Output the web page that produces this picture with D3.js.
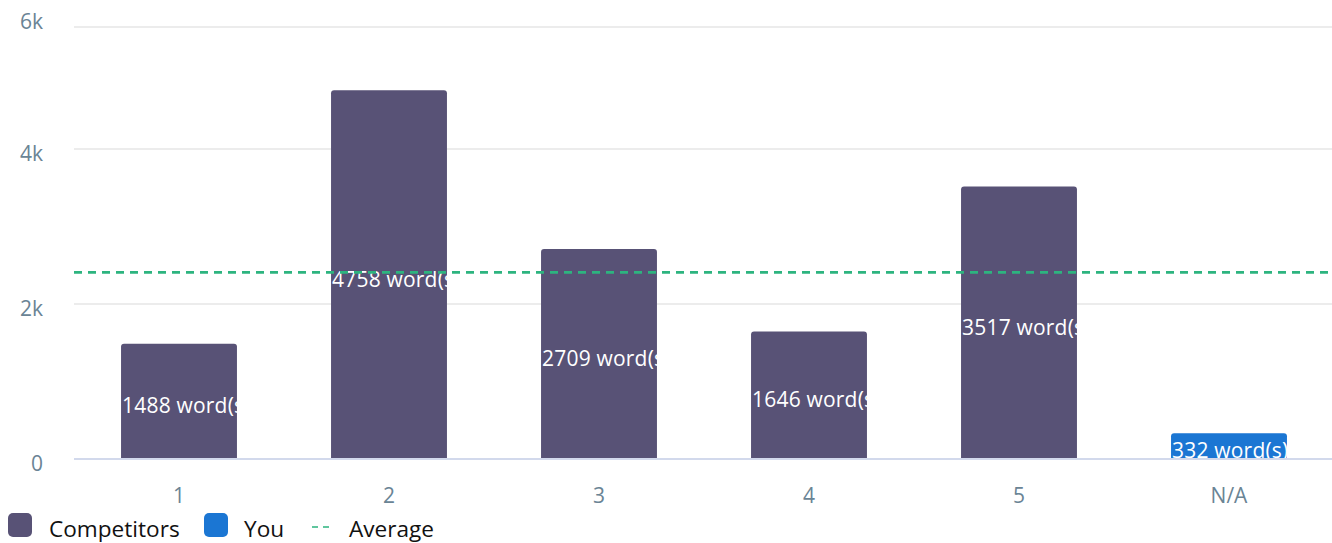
<!DOCTYPE html>
<html>
<head>
<meta charset="utf-8">
<script src="https://cdn.jsdelivr.net/npm/d3@7"></script>
<style>
  html, body { margin: 0; padding: 0; background: #fff; }
  svg { display: block; font-family: "Open Sans", sans-serif; }
</style>
</head>
<body>
<svg id="chart" width="1332" height="543"></svg>
<script>
// Word counts per ranking position
const categories = ["1", "2", "3", "4", "5", "N/A"];
const wordCounts = [1488, 4758, 2709, 1646, 3517, 332];
const owners = ["Competitors", "Competitors", "Competitors", "Competitors", "Competitors", "You"];
const yTicks = [0, 2000, 4000, 6000];
const yTickLabels = ["0", "2k", "4k", "6k"];
const legendItems = ["Competitors", "You", "Average"];

const colors = { Competitors: "#585276", You: "#1b76d3", Average: "#2db47f" };
const average = d3.mean(wordCounts);

const svg = d3.select("#chart");
const W = 1332;
const plot = { left: 74, right: 1334, top: 27, bottom: 459 };

const x = d3.scaleBand()
  .domain(categories)
  .range([plot.left, plot.right])
  .paddingInner(0.448)
  .paddingOuter(0.224);

const y = d3.scaleLinear()
  .domain([0, 6000])
  .range([plot.bottom, plot.bottom - 6000 * 0.0775]);

// Horizontal gridlines (the top one held at the plot's upper edge)
const gy = v => Math.max(y(v), plot.top);
svg.append("g").selectAll("line")
  .data(yTicks.filter(t => t > 0))
  .join("line")
  .attr("x1", plot.left).attr("x2", W)
  .attr("y1", gy).attr("y2", gy)
  .attr("stroke", "#e6e6e6").attr("stroke-width", 1.5);

// Y tick labels
svg.append("g").selectAll("text")
  .data(yTicks)
  .join("text")
  .attr("x", 43)
  .attr("y", v => Math.max(y(v) + 12, plot.top + 2))
  .attr("text-anchor", "end")
  .attr("fill", "#6a8495")
  .attr("font-size", 21)
  .text((v, i) => yTickLabels[i]);

// Bars with rounded top corners
const r = 3;
function barPath(x0, w, top, bottom) {
  return `M${x0},${bottom}V${top + r}Q${x0},${top} ${x0 + r},${top}H${x0 + w - r}Q${x0 + w},${top} ${x0 + w},${top + r}V${bottom}Z`;
}

const defs = svg.append("defs");
const bars = svg.append("g");
wordCounts.forEach((v, i) => {
  const cx = x(categories[i]);
  const bw = x.bandwidth();
  const top = y(v);
  const id = "clip-" + i;
  defs.append("clipPath").attr("id", id)
    .append("rect")
    .attr("x", cx).attr("y", top)
    .attr("width", bw).attr("height", plot.bottom - top);
  bars.append("path")
    .attr("d", barPath(cx, bw, top, plot.bottom))
    .attr("fill", colors[owners[i]]);
  bars.append("text")
    .attr("clip-path", `url(#${id})`)
    .attr("x", cx + 1)
    .attr("y", (top + plot.bottom) / 2 + 12)
    .attr("fill", "#fff")
    .attr("font-size", 21)
    .attr("letter-spacing", 0.2)
    .text(`${v} word(s)`);
});

// Baseline
svg.append("line")
  .attr("x1", plot.left).attr("x2", W)
  .attr("y1", y(0)).attr("y2", y(0))
  .attr("stroke", "#d2d9ec").attr("stroke-width", 2);

// Average line
svg.append("line")
  .attr("x1", plot.left).attr("x2", W)
  .attr("y1", y(average)).attr("y2", y(average))
  .attr("stroke", colors.Average).attr("stroke-width", 2.8)
  .attr("stroke-dasharray", "8,6");

// X tick labels
svg.append("g").selectAll("text")
  .data(categories)
  .join("text")
  .attr("x", c => x(c) + x.bandwidth() / 2)
  .attr("y", 503)
  .attr("text-anchor", "middle")
  .attr("fill", "#6a8495")
  .attr("font-size", 21)
  .text(c => c);

// Legend
const legend = svg.append("g");
const legendX = [8, 204, 312];
const legendTextX = [49, 244, 349];
legendItems.forEach((name, i) => {
  if (name === "Average") {
    legend.append("line")
      .attr("x1", legendX[i]).attr("x2", legendX[i] + 18)
      .attr("y1", 527).attr("y2", 527)
      .attr("stroke", colors.Average).attr("stroke-width", 1.5)
      .attr("stroke-dasharray", "6,5");
  } else {
    legend.append("rect")
      .attr("x", legendX[i]).attr("y", 513)
      .attr("width", 24).attr("height", 24)
      .attr("rx", 5)
      .attr("fill", colors[name]);
  }
  legend.append("text")
    .attr("x", legendTextX[i]).attr("y", 537)
    .attr("fill", "#111")
    .attr("font-size", 22.6)
    .text(name);
});
</script>
</body>
</html>
